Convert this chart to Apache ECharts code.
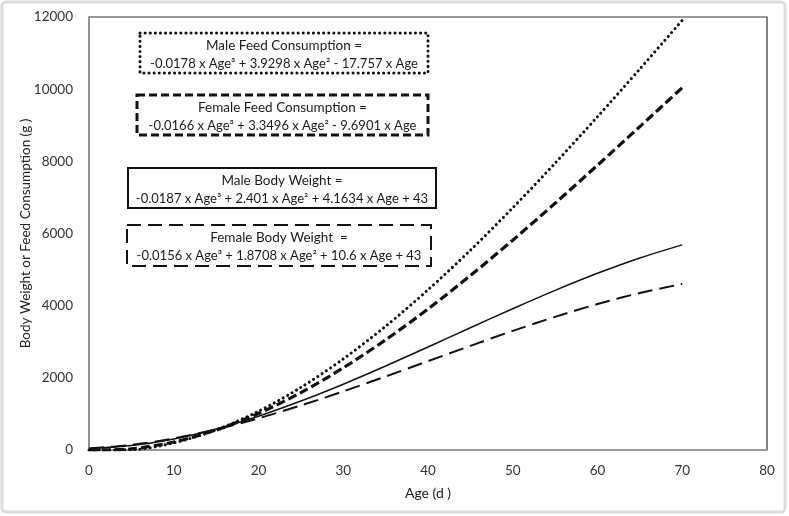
<!DOCTYPE html>
<html><head><meta charset="utf-8">
<script src="https://cdn.jsdelivr.net/npm/echarts@6/dist/echarts.min.js"></script>
<style>html,body{margin:0;padding:0;background:#fff}#c{width:789px;height:516px}</style>
</head><body><div id="c"></div>
<script>
var ages = [0,5,10,15,20,25,30,35,40,45,50,55,60,65,70];
var maleFeed = [0,7,198,558,1074,1734,2524,3429,4438,5537,6712,7950,9237,10561,11908];
var femaleFeed = [0,33,222,552,1013,1592,2276,3052,3909,4834,5815,6838,7892,8963,10041];
var maleBW = [43,122,306,583,937,1356,1824,2328,2854,3388,3916,4424,4897,5322,5685];
var femaleBW = [43,141,321,570,879,1234,1624,2037,2462,2887,3300,3690,4044,4352,4601];
var xTicks = [0,10,20,30,40,50,60,70,80];
var yTicks = [0,2000,4000,6000,8000,10000,12000];
var boxes = [
  {l1:'Male Feed Consumption =', l2:'-0.0178 x Age³ + 3.9298 x Age² - 17.757 x Age', type:'dotted'},
  {l1:'Female Feed Consumption =', l2:'-0.0166 x Age³ + 3.3496 x Age² - 9.6901 x Age', type:'dashedThick'},
  {l1:'Male Body Weight =', l2:'-0.0187 x Age³ + 2.401 x Age² + 4.1634 x Age + 43', type:'solid'},
  {l1:'Female Body Weight  =', l2:'-0.0156 x Age³ + 1.8708 x Age² + 10.6 x Age + 43', type:'dashedLong'}
];
function pairs(v){return ages.map(function(a,i){return [a,v[i]];});}
var FONT = 'Lato, "Open Sans", sans-serif';
var chart = echarts.init(document.getElementById('c'), null, {renderer:'canvas'});
var boxGeo = [
  {x:140,y:33,w:288,h:40, stroke:{lineWidth:3,lineDash:[0.1,5],lineCap:'round'}},
  {x:137,y:95,w:291,h:40, stroke:{lineWidth:3,lineDash:[8,4]}},
  {x:128,y:168,w:308,h:40, stroke:{lineWidth:2}},
  {x:127,y:225,w:304,h:41, stroke:{lineWidth:2,lineDash:[14,7]}}
];
var graphics = [{type:'rect',shape:{x:2,y:2,width:783,height:510,r:4},style:{fill:null,stroke:'#dcdcdc',lineWidth:3},silent:true,z:-1}];
boxes.forEach(function(b,i){
  var g = boxGeo[i];
  graphics.push({type:'rect',shape:{x:g.x,y:g.y,width:g.w,height:g.h},style:Object.assign({fill:'#fff',stroke:'#111'},g.stroke),z:10});
  graphics.push({type:'text',x:g.x+g.w/2,y:g.y+13,style:{text:b.l1,font:'13.5px '+FONT,fill:'#1a1a1a',align:'center',verticalAlign:'middle'},z:11});
  graphics.push({type:'text',x:g.x+g.w/2,y:g.y+31,style:{text:b.l2,font:'13px '+FONT,fill:'#1a1a1a',align:'center',verticalAlign:'middle'},z:11});
});
function plain(v){return String(v);}
chart.setOption({
  animation:false,
  backgroundColor:'#fff',
  textStyle:{fontFamily:FONT},
  grid:{left:89,top:17,right:22,bottom:66,show:true,borderColor:'#333',borderWidth:1.2},
  xAxis:{type:'value',min:0,max:80,interval:10,name:'Age (d )',nameLocation:'middle',nameGap:36,nameMoveOverlap:false,
    nameTextStyle:{fontSize:14,color:'#222'},
    axisLine:{show:true,lineStyle:{color:'#999',width:1.5}},axisTick:{show:false},splitLine:{show:false},
    axisLabel:{fontSize:13.5,color:'#333',margin:14,formatter:plain}},
  yAxis:{type:'value',min:0,max:12000,interval:2000,name:'Body Weight or Feed Consumption (g )',nameLocation:'middle',nameGap:56,nameMoveOverlap:false,
    nameTextStyle:{fontSize:13.5,color:'#222'},
    axisLine:{show:true,lineStyle:{color:'#999',width:1.5}},axisTick:{show:false},splitLine:{show:false},
    axisLabel:{fontSize:13.5,color:'#333',margin:16,formatter:plain}},
  series:[
    {name:'Male Feed',type:'line',data:pairs(maleFeed),smooth:0.3,symbol:'none',lineStyle:{color:'#111',width:3,type:[0.1,5],cap:'round'}},
    {name:'Female Feed',type:'line',data:pairs(femaleFeed),smooth:0.3,symbol:'none',lineStyle:{color:'#111',width:3.2,type:[9,4]}},
    {name:'Male BW',type:'line',data:pairs(maleBW),smooth:0.3,symbol:'none',lineStyle:{color:'#111',width:1.5}},
    {name:'Female BW',type:'line',data:pairs(femaleBW),smooth:0.3,symbol:'none',lineStyle:{color:'#111',width:2,type:[15,7]}}
  ],
  graphic:graphics
});
</script></body></html>
